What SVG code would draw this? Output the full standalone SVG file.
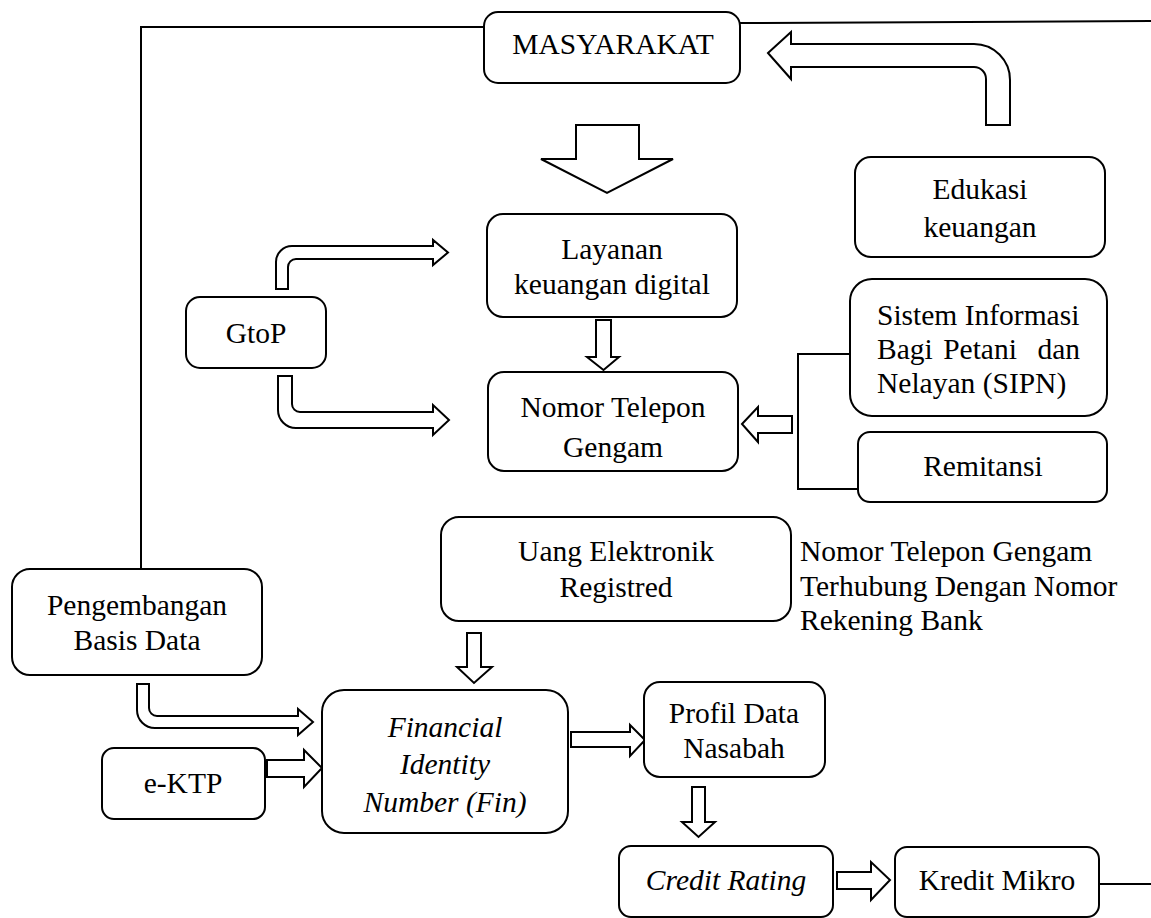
<svg xmlns="http://www.w3.org/2000/svg" width="1151" height="918" viewBox="0 0 1151 918">
<style>
.box{fill:#fff;stroke:#000;stroke-width:2}
.arr{fill:#fff;stroke:#000;stroke-width:2;stroke-linejoin:miter}
.ln{fill:none;stroke:#000;stroke-width:2}
text{font-family:"Liberation Serif","Times New Roman",serif;font-size:29.5px;fill:#000;text-anchor:middle;dominant-baseline:central}
.l{text-anchor:start}
.e{text-anchor:end}
.i{font-style:italic}
</style>
<rect width="1151" height="918" fill="#fff"/>
<g id="connectors">
<polyline class="ln" points="485,27 141,27 141,569"/>
<line class="ln" x1="740" y1="23" x2="1151" y2="21"/>
<line class="ln" x1="1099" y1="884" x2="1151" y2="884"/>
<polyline class="ln" points="850,354 798,354 798,489 858,489"/>
<path class="arr" d="M768,53 L791,32 V44 H974 A36,36 0 0 1 1010,80 V125 H986 V79 A12,12 0 0 0 974,67 H791 V79 Z"/>
<path class="arr" d="M576,125 H639 V159 H673 L607,193 L541,159 H576 Z"/>
<path class="arr" d="M276,289 V262 A16,16 0 0 1 292,246 H433 V240 L448,252.5 L433,265 V259 H296 A8,8 0 0 0 288,267 V289 Z"/>
<path class="arr" d="M278,376 H292 V404 A8,8 0 0 0 300,412 H433 V405 L449,420 L433,435 V428 H296 A18,18 0 0 1 278,410 Z"/>
<path class="arr" d="M596,320 H611 V357 H619 L603.5,370 L587,357 H596 Z"/>
<path class="arr" d="M742,424 L758,407 V416 H792 V433 H758 V442 Z"/>
<path class="arr" d="M467,633 H481 V667 H492 L474,683 L457,667 H467 Z"/>
<path class="arr" d="M137,684 H149 V708 A8,8 0 0 0 157,716 H298 V709 L313,722 L298,735 V728 H155 A18,18 0 0 1 137,710 Z"/>
<path class="arr" d="M267,760 H304 V750 L322,768 L304,787 V777 H267 Z"/>
<path class="arr" d="M571,732 H630 V725 L645,740 L630,756 V747 H571 Z"/>
<path class="arr" d="M692,787 H705 V822 H715 L698.5,837 L682,822 H692 Z"/>
<path class="arr" d="M837,872 H871 V862 L890,880 L871,900 V889 H837 Z"/>
</g>
<g id="masyarakat"><rect class="box" x="484" y="12" width="256" height="71" rx="14"/><text x="613" y="44">MASYARAKAT</text></g>
<g id="edukasi"><rect class="box" x="855" y="157" width="250" height="100" rx="16"/><text x="980" y="189">Edukasi</text><text x="980" y="227">keuangan</text></g>
<g id="layanan"><rect class="box" x="487" y="214" width="250" height="103" rx="16"/><text x="612" y="249">Layanan</text><text x="612" y="284">keuangan digital</text></g>
<g id="gtop"><rect class="box" x="186" y="297" width="140" height="71" rx="14"/><text x="256" y="333">GtoP</text></g>
<g id="nomor"><rect class="box" x="488" y="372" width="250" height="99" rx="16"/><text x="613" y="407">Nomor Telepon</text><text x="613" y="447">Gengam</text></g>
<g id="sipn"><rect class="box" x="850" y="279" width="257" height="137" rx="22"/><text class="l" x="877" y="315">Sistem Informasi</text><text class="l" x="877" y="349">Bagi</text><text x="980" y="349">Petani</text><text class="e" x="1080" y="349">dan</text><text class="l" x="877" y="383">Nelayan (SIPN)</text></g>
<g id="remitansi"><rect class="box" x="858" y="432" width="249" height="70" rx="12"/><text x="983" y="466">Remitansi</text></g>
<g id="uang"><rect class="box" x="441" y="517" width="350" height="104" rx="18"/><text x="616" y="551">Uang Elektronik</text><text x="616" y="587">Registred</text></g>
<g id="note"><text class="l" x="800" y="551">Nomor Telepon Gengam</text><text class="l" x="800" y="586">Terhubung Dengan Nomor</text><text class="l" x="800" y="620">Rekening Bank</text></g>
<g id="pengembangan"><rect class="box" x="12" y="569" width="250" height="106" rx="18"/><text x="137" y="605">Pengembangan</text><text x="137" y="640">Basis Data</text></g>
<g id="fin"><rect class="box" x="322" y="690" width="246" height="143" rx="22"/><text class="i" x="445" y="727">Financial</text><text class="i" x="445" y="764">Identity</text><text class="i" x="445" y="802">Number (Fin)</text></g>
<g id="ektp"><rect class="box" x="102" y="748" width="163" height="71" rx="12"/><text x="183" y="783">e-KTP</text></g>
<g id="profil"><rect class="box" x="644" y="682" width="181" height="95" rx="16"/><text x="734" y="713">Profil Data</text><text x="734" y="748">Nasabah</text></g>
<g id="credit"><rect class="box" x="619" y="846" width="214" height="71" rx="12"/><text class="i" x="726" y="880">Credit Rating</text></g>
<g id="kredit"><rect class="box" x="895" y="847" width="204" height="70" rx="12"/><text x="997" y="880">Kredit Mikro</text></g>
</svg>
